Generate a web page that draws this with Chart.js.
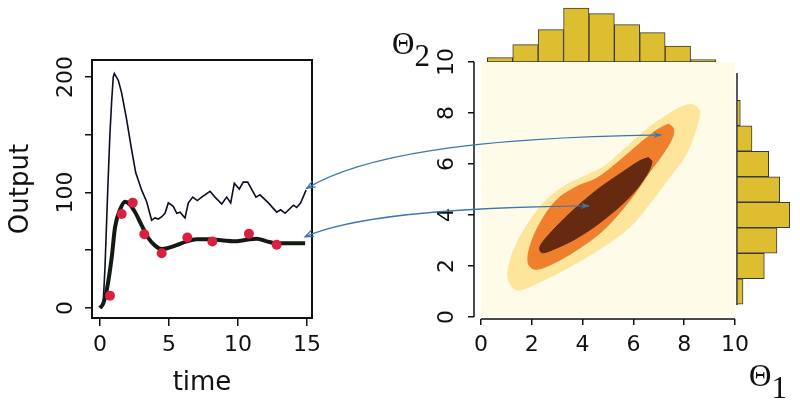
<!DOCTYPE html>
<html>
<head>
<meta charset="utf-8">
<script src="https://cdn.jsdelivr.net/npm/chart.js@4.4.1/dist/chart.umd.min.js"></script>
<style>
  body { margin: 0; background: #fff; }
  #wrap { position: relative; width: 800px; height: 405px; overflow: hidden; }
  canvas { position: absolute; }
</style>
</head>
<body>
<div id="wrap">
  <canvas id="post" style="left:0;top:0" width="800" height="405"></canvas>
  <canvas id="fit" style="left:0;top:0" width="330" height="405"></canvas>
  <canvas id="histTop" style="left:481px;top:0" width="254" height="62"></canvas>
  <canvas id="histRight" style="left:735px;top:62px" width="65" height="255"></canvas>
  <canvas id="links" style="left:0;top:0" width="800" height="405"></canvas>
</div>
<script>
// ---- left panel: simulated output, model fit and observations ----
const timeSim = [0, 0.12, 0.24, 0.36, 0.48, 0.56, 0.72, 0.85, 0.96, 1.04, 1.33, 1.57, 1.93, 2.29, 2.59, 3.02, 3.38, 3.74, 3.99, 4.23,
  4.47, 4.71, 4.95, 5.31, 5.56, 5.80, 6.16, 6.40, 6.72, 7.05, 7.37, 7.97, 8.33, 8.82, 9.18, 9.47, 9.73, 10.09, 10.38, 10.70,
  11.30, 11.59, 12.20, 12.80, 13.09, 13.41, 14.01, 14.25, 14.54, 14.93];
const outputSim = [0, 1, 6, 35, 75, 102, 151, 180, 200, 203, 197, 186, 163, 137, 117, 102, 92, 76, 78, 77,
  79, 82, 91, 88, 82, 83, 78, 91, 96, 93, 96, 101, 96, 90, 96, 91, 108, 103, 109, 109,
  96, 98, 91, 83, 85, 82, 89, 87, 91, 102];

const timeFit = [0, 0.24, 0.48, 0.85, 1.09, 1.45, 1.81, 2.17, 2.54, 3.02, 3.5, 3.99, 4.47, 4.95, 5.56, 6.28, 7.0, 7.97, 8.94, 9.66,
  10.63, 11.35, 12.08, 12.8, 13.77, 14.86];
const outputFit = [0, 4, 15, 44, 70, 85, 92, 89.5, 83, 71.5, 60.6, 54, 51, 52, 54.5, 57.7, 59.5, 59.5, 58.4, 57.7,
  59, 60, 57.7, 56, 56, 56];

const timeObs = [0.72, 1.57, 2.37, 3.21, 4.47, 6.33, 8.14, 10.79, 12.80];
const outputObs = [10.7, 81.3, 91.2, 63.8, 47.4, 61, 57.5, 64.2, 54.7];

const timeTicks = [0, 5, 10, 15];
const outputTicks = [0, 50, 100, 150, 200];
const outputLabels = [0, 100, 200];

// ---- right panel: posterior contours (theta1, theta2) ----
const lightT1 = [8.29, 8.56, 8.6, 8.1, 7.44, 6.65, 5.87, 4.82, 3.5, 2.19, 1.41, 1.08, 1.12, 1.41, 1.86, 2.45, 3.24, 4.03, 4.82, 5.74, 6.65, 7.44, 7.96];
const lightT2 = [8.35, 8.18, 7.86, 6.42, 5.5, 4.46, 3.54, 2.76, 1.97, 1.32, 1.06, 1.45, 2.1, 2.89, 3.67, 4.46, 5.11, 5.5, 5.89, 6.68, 7.46, 7.99, 8.27];

const midT1 = [7.38, 7.57, 7.55, 7.18, 6.65, 5.87, 4.82, 3.77, 2.72, 2.13, 1.86, 1.93, 2.32, 2.98, 3.77, 4.56, 5.34, 6.26, 6.92];
const midT2 = [7.57, 7.4, 7.07, 6.42, 5.7, 4.59, 3.41, 2.63, 2.04, 1.87, 2.1, 2.76, 3.67, 4.59, 5.11, 5.44, 6.03, 6.81, 7.33];

const darkT1 = [6.59, 6.73, 6.52, 5.87, 4.82, 3.77, 2.85, 2.39, 2.32, 2.72, 3.5, 4.56, 5.6, 6.26];
const darkT2 = [6.25, 6.09, 5.57, 4.72, 3.8, 3.09, 2.65, 2.52, 2.76, 3.28, 4.07, 4.98, 5.7, 6.13];

const thetaTicks = [0, 2, 4, 6, 8, 10];

// ---- marginal histograms ----
const theta1Bins = [0.75, 1.75, 2.75, 3.75, 4.75, 5.75, 6.75, 7.75, 8.75];
const theta1Counts = [4.4, 17.4, 32.4, 54, 48.4, 37.4, 29.4, 16, 2.4];
const theta2Bins = [8, 7, 6, 5, 4, 3, 2, 1];
const theta2Counts = [3.3, 15, 31.7, 42.7, 52.7, 40, 27.3, 6];
const theta2Frame = [0.47, 9.57];

// ---- links from output curves to parameter points ----
const linkFrom = [[14.98, 103.6], [14.86, 61.7]];
const linkTo = [[7.11, 7.14], [4.26, 4.36]];

Chart.defaults.font.family = '"DejaVu Sans", Verdana, sans-serif';
Chart.defaults.color = '#111';

const pts = (xs, ys) => xs.map((x, i) => ({ x: x, y: ys[i] }));
const fixTicks = vals => scale => { scale.ticks = vals.map(v => ({ value: v })); };

// rotated y tick labels, R style
const sideLabels = {
  id: 'sideLabels',
  afterDraw(chart, args, opts) {
    const { ctx, chartArea, scales: { y } } = chart;
    ctx.save();
    ctx.font = '22px "DejaVu Sans"';
    ctx.fillStyle = '#111';
    ctx.textAlign = 'center';
    ctx.textBaseline = 'middle';
    opts.values.forEach(v => {
      ctx.save();
      ctx.translate(chartArea.left - opts.gap, y.getPixelForValue(v));
      ctx.rotate(-Math.PI / 2);
      ctx.fillText(String(v), 0, 0);
      ctx.restore();
    });
    ctx.restore();
  }
};

const boxPlugin = {
  id: 'box',
  afterDraw(chart) {
    const { ctx, chartArea: a } = chart;
    ctx.save();
    ctx.strokeStyle = '#111';
    ctx.lineWidth = 2;
    ctx.strokeRect(a.left, a.top, a.right - a.left, a.bottom - a.top);
    ctx.restore();
  }
};

const panelBg = {
  id: 'panelBg',
  beforeDatasetsDraw(chart) {
    const { ctx, scales: { x, y } } = chart;
    const x0 = x.getPixelForValue(0), x1 = x.getPixelForValue(10);
    const y0 = y.getPixelForValue(0), y1 = y.getPixelForValue(10);
    ctx.save();
    ctx.fillStyle = '#fefce9';
    ctx.fillRect(x0, y1, x1 - x0, y0 - y1);
    ctx.restore();
  }
};

const axisLines = {
  id: 'axisLines',
  afterDraw(chart) {
    const { ctx, chartArea: a, scales: { x, y } } = chart;
    ctx.save();
    ctx.strokeStyle = '#111';
    ctx.lineWidth = 1.5;
    ctx.beginPath();
    ctx.moveTo(x.getPixelForValue(0), a.bottom);
    ctx.lineTo(x.getPixelForValue(10), a.bottom);
    ctx.moveTo(a.left, y.getPixelForValue(0));
    ctx.lineTo(a.left, y.getPixelForValue(10));
    ctx.stroke();
    ctx.restore();
  }
};

const thetaLabels = {
  id: 'thetaLabels',
  afterDraw(chart) {
    const { ctx, scales: { x, y } } = chart;
    const draw = (sub, px, py) => {
      ctx.font = '31px "Liberation Serif"';
      ctx.fillText('\u0398', px, py);
      const w = ctx.measureText('\u0398').width;
      ctx.fillText(sub, px + w, py + 12);
    };
    ctx.save();
    ctx.fillStyle = '#111';
    ctx.textAlign = 'left';
    ctx.textBaseline = 'alphabetic';
    draw('1', x.getPixelForValue(10) + 14, y.getPixelForValue(0) + 69);
    draw('2', x.getPixelForValue(0) - 89, y.getPixelForValue(10) - 8);
    ctx.restore();
  }
};

const tickGrid = len => ({ drawOnChartArea: false, drawTicks: true, tickLength: len, color: '#111', lineWidth: 1.5 });

// left panel
const fitChart = new Chart(document.getElementById('fit'), {
  type: 'line',
  data: {
    datasets: [
      { data: pts(timeObs, outputObs), showLine: false, pointRadius: 5, pointBackgroundColor: '#dc1e3f', pointBorderWidth: 0, order: 0 },
      { data: pts(timeFit, outputFit), borderColor: '#121a12', borderWidth: 4, pointRadius: 0, cubicInterpolationMode: 'monotone', order: 1 },
      { data: pts(timeSim, outputSim), borderColor: '#0d0d22', borderWidth: 1.6, pointRadius: 0, tension: 0, order: 2 }
    ]
  },
  options: {
    responsive: false,
    animation: false,
    layout: { padding: { left: 6, right: 18, top: 60, bottom: 6 } },
    plugins: { legend: { display: false }, tooltip: { enabled: false }, sideLabels: { values: outputLabels, gap: 26 } },
    scales: {
      x: {
        type: 'linear', min: -0.58, max: 15.36,
        afterBuildTicks: fixTicks(timeTicks),
        afterFit: s => { s.height = 81; },
        grid: tickGrid(8), border: { display: false },
        ticks: { font: { size: 22 }, padding: 6, maxRotation: 0 },
        title: { display: true, text: 'time', font: { size: 26 }, padding: 0 }
      },
      y: {
        type: 'linear', min: -8.66, max: 214.7,
        afterBuildTicks: fixTicks(outputTicks),
        afterFit: s => { s.width = 86; },
        grid: tickGrid(7), border: { display: false },
        ticks: { display: false },
        title: { display: true, text: 'Output', font: { size: 26 }, padding: 0 }
      }
    }
  },
  plugins: [boxPlugin, sideLabels]
});

// right panel
function contour(xs, ys, color, order) {
  const p = pts(xs, ys);
  p.push(p[0]);
  return { data: p, fill: 'shape', backgroundColor: color, borderColor: color, borderWidth: 1, pointRadius: 0, tension: 0.35, order: order };
}

const postChart = new Chart(document.getElementById('post'), {
  type: 'line',
  data: {
    datasets: [
      contour(darkT1, darkT2, '#662a10', 0),
      contour(midT1, midT2, '#ef7f2d', 1),
      contour(lightT1, lightT2, '#fee59c', 2)
    ]
  },
  options: {
    responsive: false,
    animation: false,
    layout: { padding: { left: 464, right: 65, top: 62, bottom: 46 } },
    plugins: { legend: { display: false }, tooltip: { enabled: false }, sideLabels: { values: thetaTicks, gap: 27 } },
    scales: {
      x: {
        type: 'linear', min: -0.2756, max: 10,
        afterBuildTicks: fixTicks(thetaTicks),
        afterFit: s => { s.height = 40; },
        grid: tickGrid(6), border: { display: false },
        ticks: { font: { size: 22 }, padding: 7, maxRotation: 0 }
      },
      y: {
        type: 'linear', min: -0.08, max: 10,
        afterBuildTicks: fixTicks(thetaTicks),
        afterFit: s => { s.width = 10; },
        grid: tickGrid(6), border: { display: false },
        ticks: { display: false }
      }
    }
  },
  plugins: [panelBg, axisLines, sideLabels, thetaLabels]
});

// marginal histograms
const histStyle = { backgroundColor: '#dcbe30', borderColor: '#3a3a3a', borderWidth: 1, borderSkipped: false, barPercentage: 1, categoryPercentage: 1 };

new Chart(document.getElementById('histTop'), {
  type: 'bar',
  data: { datasets: [Object.assign({ data: pts(theta1Bins, theta1Counts) }, histStyle)] },
  options: {
    responsive: false, animation: false,
    plugins: { legend: { display: false }, tooltip: { enabled: false } },
    scales: {
      x: { type: 'linear', min: 0, max: 10, offset: false, display: false },
      y: { min: 0, max: 62, display: false }
    }
  }
});

new Chart(document.getElementById('histRight'), {
  type: 'bar',
  data: {
    datasets: [
      Object.assign({ data: theta2Bins.map((b, i) => ({ x: theta2Counts[i], y: b })) }, histStyle),
      { type: 'line', data: theta2Frame.map(v => ({ x: 0, y: v })), borderColor: '#222', borderWidth: 1.5, pointRadius: 0, indexAxis: 'y' }
    ]
  },
  options: {
    indexAxis: 'y',
    responsive: false, animation: false,
    plugins: { legend: { display: false }, tooltip: { enabled: false } },
    scales: {
      x: { type: 'linear', min: -2, max: 63, offset: false, display: false },
      y: { type: 'linear', min: 0, max: 10, offset: false, display: false }
    }
  }
});

// curved double arrows linking the two panels
function toPage(chart, xv, yv) {
  const c = chart.canvas;
  return [c.offsetLeft + chart.scales.x.getPixelForValue(xv), c.offsetTop + chart.scales.y.getPixelForValue(yv)];
}

function head(ctx, tip, from, filled) {
  const a = Math.atan2(tip[1] - from[1], tip[0] - from[0]);
  const L = 9, w = 0.38;
  const p1 = [tip[0] - L * Math.cos(a - w), tip[1] - L * Math.sin(a - w)];
  const p2 = [tip[0] - L * Math.cos(a + w), tip[1] - L * Math.sin(a + w)];
  ctx.beginPath();
  ctx.moveTo(p1[0], p1[1]);
  ctx.lineTo(tip[0], tip[1]);
  ctx.lineTo(p2[0], p2[1]);
  if (filled) {
    ctx.lineTo(tip[0] - 0.6 * L * Math.cos(a), tip[1] - 0.6 * L * Math.sin(a));
    ctx.closePath();
    ctx.fill();
  } else {
    ctx.stroke();
  }
}

const lctx = document.getElementById('links').getContext('2d');
lctx.strokeStyle = '#3a77b0';
lctx.fillStyle = '#3a77b0';
lctx.lineWidth = 1.3;
linkFrom.forEach((f, i) => {
  const p0 = toPage(fitChart, f[0], f[1]);
  const p3 = toPage(postChart, linkTo[i][0], linkTo[i][1]);
  const dx = p3[0] - p0[0], dy = p0[1] - p3[1];
  const c1 = [p0[0] + 0.15 * dx, p0[1] - 0.6 * dy];
  const c2 = [p0[0] + 0.45 * dx, p3[1] + 0.05 * dy];
  lctx.beginPath();
  lctx.moveTo(p0[0], p0[1]);
  lctx.bezierCurveTo(c1[0], c1[1], c2[0], c2[1], p3[0], p3[1]);
  lctx.stroke();
  head(lctx, p0, c1, false);
  head(lctx, p3, c2, true);
});
</script>
</body>
</html>
